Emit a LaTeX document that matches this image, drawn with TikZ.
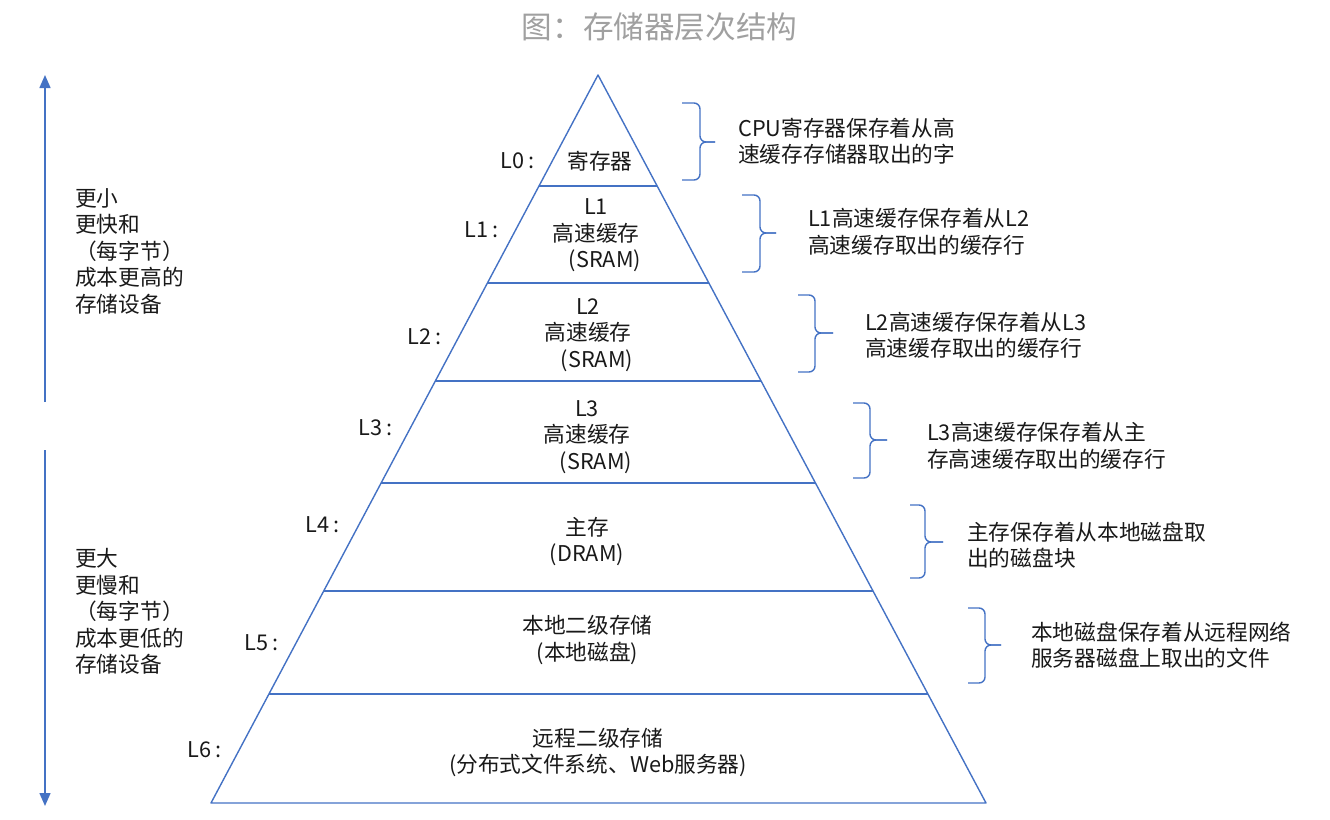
\documentclass[tikz,border=0pt]{standalone}
\usepackage{fontspec}
\setmainfont{Noto Sans CJK SC}
\usetikzlibrary{arrows.meta,calc}
\definecolor{pblue}{RGB}{68,114,196}
\definecolor{tgray}{RGB}{160,160,160}
\definecolor{txt}{RGB}{25,25,25}
\newcommand\mybrace[7]{%
 \coordinate (#1a) at (#2,#5);
 \coordinate (#1b) at (#3,#5);
 \coordinate (#1c) at (#3,#6);
 \coordinate (#1d) at (#4,#6);
 \coordinate (#1e) at (#3,#7);
 \coordinate (#1f) at (#2,#7);
 \draw[brc] (#1a) -- (#1b) -- (#1c) -- (#1d);
 \draw[brc] (#1f) -- (#1e) -- (#1c) -- (#1d);
}
\begin{document}
\begin{tikzpicture}[x=1pt,y=-1pt,
  line/.style={draw=pblue,line width=1.4pt},
  body/.style={font=\fontsize{21.7}{26.5}\selectfont,text=txt,inner sep=0pt},
  lbl/.style={body,anchor=east},
  note/.style={body,anchor=west,align=left},
  lvl/.style={body,align=center},
  brc/.style={draw=pblue,line width=1.4pt,rounded corners=6pt,line join=round}
]
\useasboundingbox (0,0) rectangle (1330,819);

% title
\node[font=\fontsize{30.6}{34}\selectfont,text=tgray,inner sep=0pt] (title) at (659.5,27) {图：存储器层次结构};

% pyramid
\coordinate (A) at (598,75);
\coordinate (BL) at (211,803);
\coordinate (BR) at (986,803);
\draw[line,line join=round] (A) -- (BL) -- (BR) -- cycle;
\foreach \t [count=\i] in {0.1525,0.2857,0.4203,0.5604,0.7088,0.8503}{
  \path (A) -- (BL) coordinate[pos=\t] (l\i);
  \path (A) -- (BR) coordinate[pos=\t] (r\i);
  \draw[line] (l\i) -- (r\i);
}

% level texts
\node[body] (t0) at (600,161) {寄存器};
\node[lvl] (t1) at (596,235.5) {L1\\高速缓存\\\hspace*{18pt}(SRAM)};
\node[lvl] (t2) at (588,335) {L2\\高速缓存\\\hspace*{18pt}(SRAM)};
\node[lvl] (t3) at (587,437) {L3\\高速缓存\\\hspace*{18pt}(SRAM)};
\node[lvl] (t4) at (587,541.5) {主存\\(DRAM)};
\node[lvl] (t5) at (587.5,640) {本地二级存储\\(本地磁盘)};
\node[lvl] (t6) at (598,752.5) {远程二级存储\\(分布式文件系统、Web服务器)};

% level labels
\node[lbl] (L0) at (535,161) {L0\hspace{4pt}:};
\node[lbl] (L1) at (499,230) {L1\hspace{4pt}:};
\node[lbl] (L2) at (442,337) {L2\hspace{4pt}:};
\node[lbl] (L3) at (393,428) {L3\hspace{4pt}:};
\node[lbl] (L4) at (340,525) {L4\hspace{4pt}:};
\node[lbl] (L5) at (279,643) {L5\hspace{4pt}:};
\node[lbl] (L6) at (222,750) {L6\hspace{4pt}:};

% braces
\mybrace{b0}{682}{700}{715}{103}{142}{180}
\mybrace{b1}{742}{760}{776}{195}{233}{272}
\mybrace{b2}{798}{815}{833}{295}{333}{372}
\mybrace{b3}{853}{870}{887}{403}{440}{478}
\mybrace{b4}{910}{925}{943}{505}{542}{578}
\mybrace{b5}{968}{985}{1001}{608}{645}{683}

% notes
\node[note] (n0) at (738,141) {CPU寄存器保存着从高\\速缓存存储器取出的字};
\node[note] (n1) at (808,231.5) {L1高速缓存保存着从L2\\高速缓存取出的缓存行};
\node[note] (n2) at (865,335) {L2高速缓存保存着从L3\\高速缓存取出的缓存行};
\node[note] (n3) at (927,445.5) {L3高速缓存保存着从主\\存高速缓存取出的缓存行};
\node[note] (n4) at (967,545) {主存保存着从本地磁盘取\\出的磁盘块};
\node[note] (n5) at (1031,645) {本地磁盘保存着从远程网络\\服务器磁盘上取出的文件};

% left arrows
\coordinate (u0) at (45,402);
\coordinate (u1) at (45,75);
\coordinate (d0) at (45,450);
\coordinate (d1) at (45,806);
\draw[line,-{Triangle[length=13pt,width=11pt]}] (u0) -- (u1);
\draw[line,-{Triangle[length=13pt,width=11pt]}] (d0) -- (d1);

% left texts
\node[note] (s1) at (75,251) {更小\\更快和\\（每字节）\\成本更高的\\存储设备};
\node[note] (s2) at (75,611.5) {更大\\更慢和\\（每字节）\\成本更低的\\存储设备};
\end{tikzpicture}
\end{document}
